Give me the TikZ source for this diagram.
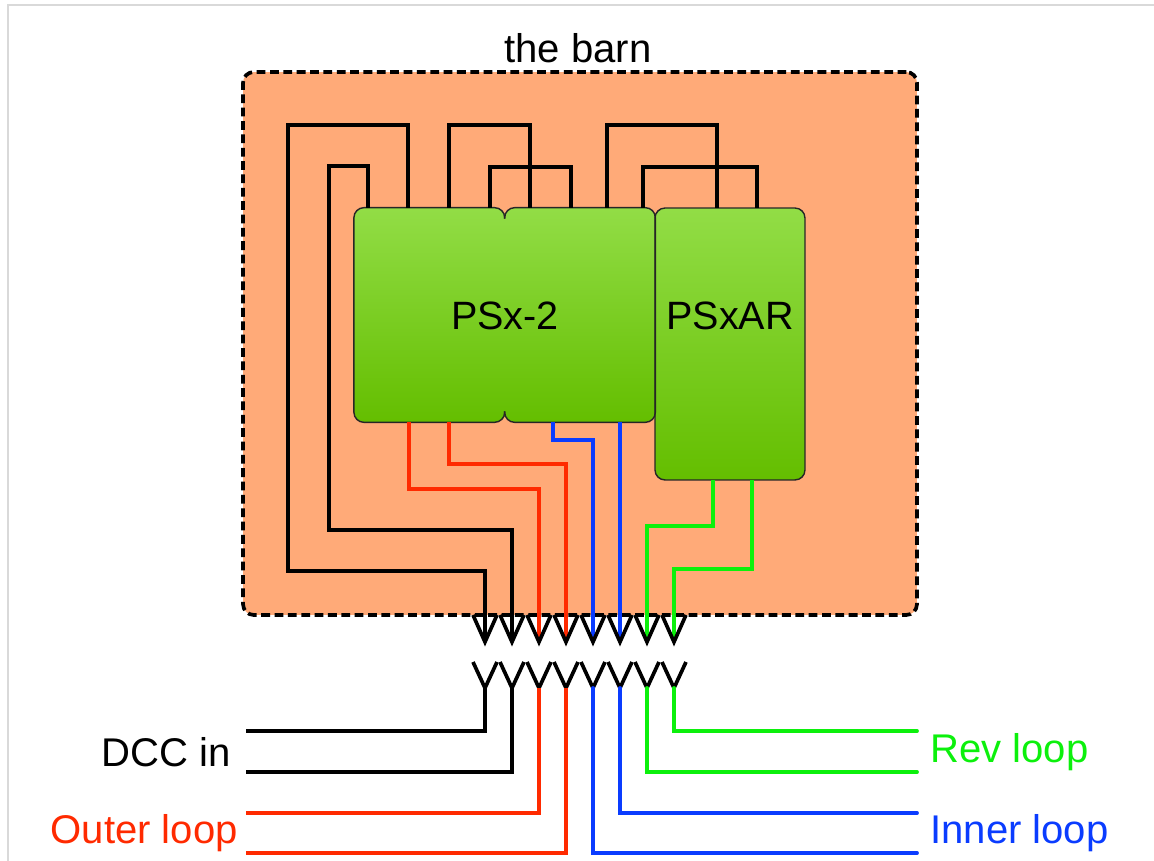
\documentclass[tikz,border=0pt]{standalone}
\usepackage{fontspec}
\setmainfont{Liberation Sans}
\usetikzlibrary{calc}
\definecolor{barnfill}{HTML}{FFAA78}
\definecolor{boxtop}{HTML}{92DD46}
\definecolor{boxbottom}{HTML}{64BE00}
\definecolor{wirered}{HTML}{FF2A00}
\definecolor{wireblue}{HTML}{0A3CFF}
\definecolor{wiregreen}{HTML}{0CF00C}
\tikzset{
	wire/.style={line width=2.2pt, line join=miter},
	fork/.style={line width=2.1pt, line join=miter, black},
	psbox/.style={rounded corners=5.7pt, top color=boxtop, bottom color=boxbottom, inner sep=0pt},
	psedge/.style={draw=black!85, line width=0.8pt, rounded corners=5.7pt},
	label/.style={font=\fontsize{22.8}{27}\selectfont, inner sep=0pt},
	boxlabel/.style={font=\fontsize{22.5}{26}\selectfont, inner sep=0pt}
}

\begin{document}
\begin{tikzpicture}[x=0.02cm, y=-0.02cm]
	\useasboundingbox (0,0) rectangle (1154,861);
	\draw[black!15, line width=0.6pt] (8,861) -- (8,5) -- (1154,5);

	\node[draw=black, dash pattern=on 5pt off 2.6pt, line width=2.1pt, fill=barnfill, rounded corners=6pt, minimum width=13.48cm, minimum height=10.86cm, inner sep=0pt] (barn) at (580,343.5) {};
	\node[label, anchor=base] (barnlabel) at (578,63) {the barn};

	\node[psbox, minimum width=3.03cm, minimum height=4.28cm] (psxa) at (430,315) {};
	\node[psbox, minimum width=3.00cm, minimum height=4.28cm] (psxb) at (580,315) {};
	\node[psbox, psedge, minimum width=3.00cm, minimum height=5.44cm] (psxar) at (730,344) {};

	% the two halves share one outline, with a notch top and bottom
	\draw[psedge] ($(psxb.north west)+(0,11)$) -- (psxb.north west) -- (psxa.north west) -- (psxa.south west) -- (psxb.south west) -- ($(psxb.south west)+(0,-11)$);
	\draw[psedge] ($(psxb.north west)+(0,11)$) -- (psxb.north west) -- (psxb.north east) -- (psxb.south east) -- (psxb.south west) -- ($(psxb.south west)+(0,-11)$);

	\node[boxlabel, anchor=base] (psxlabel) at (505,330) {PSx-2};
	\node[boxlabel, anchor=base] (psxarlabel) at (730,330) {PSxAR};

	% pins on the top of the boxes
	\foreach \name/\px in {ta/368,tb/408,tc/449,td/490,te/530,tf/571,tg/607,th/643,ti/717,tj/757}
		\coordinate (\name) at (\px,208);
	% pins on the bottom of the boxes
	\foreach \name/\px in {ba/409,bb/449,bc/553,bd/620}
		\coordinate (\name) at (\px,422);
	\coordinate (be) at (713,480);
	\coordinate (bf) at (752,480);

	% plug and socket tips
	\foreach \i/\px in {1/485,2/512,3/539,4/566,5/593,6/620,7/647,8/674}{
		\coordinate (up\i) at (\px,642);
		\coordinate (dn\i) at (\px,688);
	}

	% free ends outside
	\foreach \i/\py in {1/731,2/772,3/813,4/853}{
		\coordinate (lf\i) at (246,\py);
		\coordinate (rt\i) at (917,\py);
	}

	% inside the barn
	\draw[wire] (tb) |- (288,125) |- (485,571) -- (up1);
	\draw[wire] (ta) |- (329,166) |- (512,530) -- (up2);
	\draw[wire] (tc) |- (490,125) -| (te);
	\draw[wire] (td) |- (530,167) -| (tf);
	\draw[wire] (tg) |- (660,125) -| (ti);
	\draw[wire] (th) |- (700,167) -| (tj);
	\draw[wire, wirered] (ba) |- (539,489) -- (up3);
	\draw[wire, wirered] (bb) |- (566,464) -- (up4);
	\draw[wire, wireblue] (bc) |- (593,440) -- (up5);
	\draw[wire, wireblue] (bd) -- (up6);
	\draw[wire, wiregreen] (be) |- (647,526) -- (up7);
	\draw[wire, wiregreen] (bf) |- (674,569) -- (up8);

	% the forks
	\foreach \i in {1,...,8}{
		\draw[fork] ($(up\i)+(-12,-27)$) -- (up\i) -- ($(up\i)+(12,-27)$);
		\draw[fork] ($(dn\i)+(-12,-26)$) -- (dn\i) -- ($(dn\i)+(12,-26)$);
	}

	% outside the barn
	\draw[wire] (lf1) -| (dn1);
	\draw[wire] (lf2) -| (dn2);
	\draw[wire, wirered] (lf3) -| (dn3);
	\draw[wire, wirered] (lf4) -| (dn4);
	\draw[wire, wireblue, line cap=round] (rt4) -| (dn5);
	\draw[wire, wireblue, line cap=round] (rt3) -| (dn6);
	\draw[wire, wiregreen, line cap=round] (rt2) -| (dn7);
	\draw[wire, wiregreen, line cap=round] (rt1) -| (dn8);

	\node[label, anchor=base east] (dcclabel) at (231,766) {DCC in};
	\node[label, anchor=base east, wirered] (outerlabel) at (238,843) {Outer loop};
	\node[label, anchor=base west, wiregreen] (revlabel) at (930,763) {Rev loop};
	\node[label, anchor=base west, wireblue] (innerlabel) at (930,843) {Inner loop};
\end{tikzpicture}
\end{document}
